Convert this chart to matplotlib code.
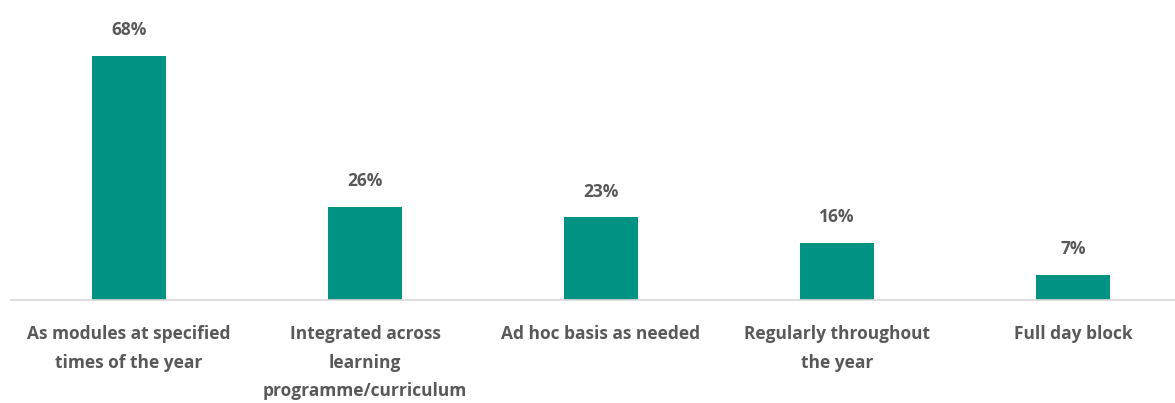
import matplotlib.pyplot as plt
import numpy as np

# Chart data
categories = ['As modules at specified\ntimes of the year',
              'Integrated across\nlearning\nprogramme/curriculum',
              'Ad hoc basis as needed',
              'Regularly throughout\nthe year',
              'Full day block']
values = [68, 26, 23, 16, 7]
value_labels = ['68%', '26%', '23%', '16%', '7%']

BAR_COLOR = '#009384'
TEXT_COLOR = '#595959'

plt.rcParams['font.family'] = ['Open Sans', 'DejaVu Sans']

fig = plt.figure(figsize=(11.75, 4.03), dpi=100)
ax = fig.add_axes([11 / 1175, 103 / 403, 1180 / 1175, 300 / 403])

x = np.arange(len(categories))
ax.bar(x, values, width=0.314, color=BAR_COLOR, zorder=2)

for xi, v, lab in zip(x, values, value_labels):
    ax.annotate(lab, (xi, v), xytext=(0, 12), textcoords='offset points',
                ha='center', va='bottom', fontsize=12.5, fontweight='bold',
                color=TEXT_COLOR)

ax.set_xlim(-0.5, len(categories) - 0.5)
ax.set_ylim(0, 83.6)
ax.set_xticks(x)
ax.set_xticklabels(categories, fontsize=12.5, fontweight='bold', color=TEXT_COLOR,
                   linespacing=1.75)
ax.tick_params(axis='x', length=0, pad=18)
ax.set_yticks([])

for side in ['top', 'right', 'left']:
    ax.spines[side].set_visible(False)
ax.spines['bottom'].set_color('#d9d9d9')
ax.spines['bottom'].set_linewidth(1.2)

fig.savefig('out.png', dpi=100)
